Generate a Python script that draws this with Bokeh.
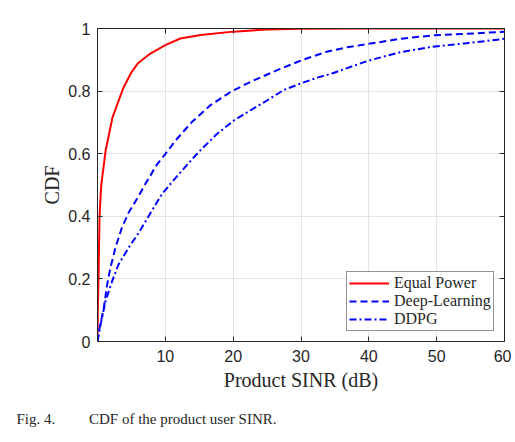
from bokeh.plotting import figure
from bokeh.models import Range1d, FixedTicker, Legend, LegendItem, Title, LinearAxis
from bokeh.embed import file_html
from bokeh.resources import INLINE

# ---- data ----
ep_x = [0, 0.05, 0.15, 0.3, 0.55, 1.2, 2.2, 3.8, 5.0, 6.0, 7.8, 10, 12.2, 15.2, 20, 25, 30, 40, 60]
ep_y = [0, 0.1, 0.2, 0.4, 0.5, 0.61, 0.715, 0.81, 0.86, 0.89, 0.92, 0.947, 0.968, 0.979, 0.99, 0.997, 0.999, 1.0, 1.0]

dl_x = [0, 0.2, 0.93, 1.43, 1.9, 2.65, 3.6, 4.6, 5.8, 7.05, 8.8, 10, 11.7, 13.9, 16.6, 19.6, 22.5,
        26.5, 29.9, 33.8, 36.8, 40, 44.6, 49.4, 54.4, 60]
dl_y = [0, 0.032, 0.107, 0.182, 0.235, 0.30, 0.364, 0.412, 0.455, 0.503, 0.567, 0.599, 0.647, 0.701,
        0.754, 0.797, 0.829, 0.867, 0.897, 0.926, 0.94, 0.951, 0.967, 0.978, 0.983, 0.99]

dd_x = [0, 0.44, 1.18, 2.16, 3.1, 4.6, 6.1, 7.55, 9.5, 12.0, 14.9, 17.6, 20.1, 22.5, 25, 27.4, 29.9,
        32.4, 34.8, 37, 39.9, 44.6, 49.4, 54.4, 60]
dd_y = [0, 0.053, 0.128, 0.193, 0.246, 0.30, 0.348, 0.401, 0.471, 0.535, 0.605, 0.663, 0.706, 0.738,
        0.77, 0.803, 0.824, 0.843, 0.858, 0.875, 0.897, 0.924, 0.942, 0.953, 0.967]

x_ticks = [10, 20, 30, 40, 50, 60]
y_ticks = [0, 0.2, 0.4, 0.6, 0.8, 1.0]
y_tick_labels = {0: "0", 0.2: "0.2", 0.4: "0.4", 0.6: "0.6", 0.8: "0.8", 1.0: "1"}

series_names = ["Equal Power", "Deep-Learning", "DDPG"]

p = figure(width=511, height=442, output_backend="svg", toolbar_location=None,
           x_range=Range1d(0, 60), y_range=Range1d(0, 1),
           min_border_left=97, min_border_right=7, min_border_top=28, min_border_bottom=10)

p.background_fill_color = "white"
p.outline_line_color = "#262626"
p.outline_line_width = 1

for ax in (p.xaxis[0], p.yaxis[0]):
    ax.axis_line_color = "#262626"
    ax.major_tick_line_color = "#262626"
    ax.major_tick_in = 5
    ax.major_tick_out = 0
    ax.minor_tick_line_color = None
    ax.major_label_text_font = "Liberation Sans"
    ax.major_label_text_font_size = "16px"
    ax.major_label_text_color = "#262626"
    ax.axis_label_text_font = "Liberation Serif"
    ax.axis_label_text_font_style = "normal"
    ax.axis_label_text_font_size = "20px"
    ax.axis_label_text_color = "#262626"

p.xaxis.ticker = FixedTicker(ticks=x_ticks)
p.yaxis.ticker = FixedTicker(ticks=y_ticks)
p.yaxis.major_label_overrides = y_tick_labels
p.xaxis.axis_label = "Product SINR (dB)"
p.yaxis.axis_label = "CDF"
p.xaxis.major_label_standoff = 8
p.xaxis.axis_label_standoff = 4
p.yaxis.major_label_standoff = 7
p.yaxis.axis_label_standoff = 2

# box-style tick marks on the top and right edges (no labels)
for loc, ticks in (("above", x_ticks), ("right", y_ticks)):
    bx = LinearAxis(ticker=FixedTicker(ticks=ticks), axis_line_color="#262626",
                    major_tick_line_color="#262626", major_tick_in=5, major_tick_out=0,
                    minor_tick_line_color=None, major_label_text_font_size="0px",
                    major_label_standoff=0)
    p.add_layout(bx, loc)

p.xgrid.ticker = FixedTicker(ticks=x_ticks)
p.ygrid.ticker = FixedTicker(ticks=y_ticks)
p.grid.grid_line_color = "#e3e3e3"
p.grid.grid_line_width = 1

r1 = p.line(ep_x, ep_y, line_color="#ff0000", line_width=2)
r2 = p.line(dl_x, dl_y, line_color="#0000ff", line_width=2, line_dash="7 4")
r3 = p.line(dd_x, dd_y, line_color="#0000ff", line_width=2, line_dash="7 3 2 3")

legend = Legend(items=[LegendItem(label=series_names[0], renderers=[r1]),
                       LegendItem(label=series_names[1], renderers=[r2]),
                       LegendItem(label=series_names[2], renderers=[r3])],
                location=(249, 10))
legend.label_text_font = "Liberation Serif"
legend.label_text_font_size = "16px"
legend.label_text_color = "#262626"
legend.label_height = 16
legend.glyph_height = 16
legend.glyph_width = 40
legend.spacing = 0
legend.padding = 2
legend.margin = 0
legend.label_standoff = 5
legend.border_line_color = "#262626"
legend.border_line_width = 1
legend.background_fill_alpha = 1
p.add_layout(legend)

cap = Title(text="Fig. 4." + "\u00a0" * 9 + "CDF of the product user SINR.", align="left",
            text_font="Liberation Serif", text_font_size="15px", text_font_style="normal",
            text_color="#262626", offset=-81, standoff=31)
p.add_layout(cap, "below")

open("out.html", "w").write(file_html(p, INLINE))
